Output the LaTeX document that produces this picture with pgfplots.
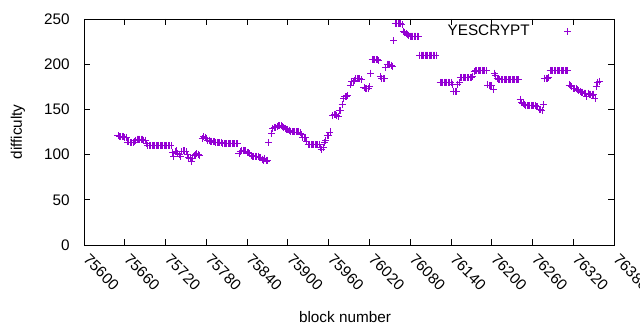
\documentclass[border=0pt]{standalone}
\usepackage{pgfplots}
\pgfplotsset{compat=1.18}
\usepackage{pgfplotstable}
\usepackage{fontspec}
\setmainfont{Liberation Sans}
\definecolor{gpviolet}{RGB}{148,0,211}
\newcommand{\gpfont}{\fontsize{15.3bp}{18bp}\selectfont}
\pgfplotstableread[row sep=\\]{
b v\\
75650 121\\ 75652 120\\ 75654 120\\ 75656 120\\ 75658 120\\ 75660 119\\ 75662 119\\
75664 114\\ 75666 114\\ 75668 113\\ 75670 113\\ 75672 113\\ 75674 114\\
75676 116\\ 75678 117\\ 75680 117\\ 75682 117\\ 75684 117\\ 75686 117\\ 75688 116\\ 75690 116\\
75692 112\\ 75694 110\\ 75696 110\\ 75698 110\\ 75700 110\\ 75702 110\\ 75704 110\\ 75706 110\\ 75708 110\\
75710 110\\ 75712 110\\ 75714 110\\ 75716 110\\ 75718 110\\ 75720 110\\ 75722 110\\ 75724 110\\ 75726 110\\ 75728 110\\
75730 102\\ 75732 98\\ 75734 103\\ 75736 104\\ 75738 101\\ 75740 100\\ 75742 98\\ 75744 103\\ 75746 104\\ 75748 104\\
75750 103\\ 75752 100\\ 75754 97\\ 75756 96\\ 75758 92\\ 75760 96\\ 75762 99\\ 75764 100\\ 75766 101\\ 75768 100\\ 75770 99\\
75774 118\\ 75776 120\\ 75778 119\\ 75780 118\\ 75782 116\\ 75784 116\\ 75786 115\\ 75788 115\\ 75790 114\\ 75792 114\\
75794 113\\ 75796 113\\ 75798 113\\ 75800 113\\ 75802 113\\ 75804 112\\ 75806 112\\ 75808 112\\ 75810 112\\ 75812 112\\
75814 112\\ 75816 112\\ 75818 112\\ 75820 112\\ 75822 112\\ 75824 112\\ 75826 112\\
75828 101\\ 75830 103\\ 75832 104\\ 75834 105\\ 75836 104\\ 75838 104\\ 75840 102\\ 75842 102\\ 75844 101\\ 75846 99\\
75848 98\\ 75850 98\\ 75852 98\\ 75854 98\\ 75856 98\\ 75858 97\\ 75860 97\\ 75862 95\\ 75864 94\\ 75866 96\\ 75868 93\\ 75870 94\\
75872 113\\ 75876 123\\ 75878 129\\ 75880 130\\ 75882 130\\ 75884 131\\ 75886 132\\ 75888 132\\ 75890 132\\ 75892 131\\
75894 130\\ 75896 129\\ 75898 128\\ 75900 128\\ 75902 127\\ 75904 126\\ 75906 125\\ 75908 125\\ 75910 125\\ 75912 125\\
75914 125\\ 75916 125\\ 75918 124\\ 75920 122\\ 75922 119\\ 75924 119\\ 75926 119\\ 75928 115\\
75930 111\\ 75932 111\\ 75934 111\\ 75936 111\\ 75938 111\\ 75940 111\\ 75942 111\\ 75944 111\\ 75946 111\\
75948 108\\ 75950 106\\ 75952 108\\ 75954 113\\ 75956 116\\ 75958 121\\ 75960 121\\ 75962 125\\
75966 143\\ 75968 144\\ 75970 144\\ 75972 143\\ 75974 142\\ 75976 149\\ 75978 149\\ 75980 155\\ 75982 162\\ 75984 164\\
75986 164\\ 75988 165\\ 75992 177\\ 75994 181\\ 75996 181\\ 75998 182\\ 76000 184\\ 76002 184\\ 76004 184\\ 76006 184\\
76008 183\\ 76012 174\\ 76014 173\\ 76016 173\\ 76018 173\\ 76020 175\\ 76022 190\\
76024 205\\ 76026 205\\ 76028 205\\ 76030 205\\ 76032 205\\ 76034 204\\ 76036 186\\ 76038 184\\ 76040 184\\ 76042 184\\
76044 196\\ 76046 200\\ 76048 200\\ 76050 200\\ 76052 199\\ 76054 198\\ 76056 226\\
76058 245\\ 76060 245\\ 76062 245\\ 76064 245\\ 76066 245\\ 76068 244\\ 76070 236\\ 76072 235\\ 76074 234\\ 76076 233\\
76078 232\\ 76080 231\\ 76082 231\\ 76084 231\\ 76086 231\\ 76088 231\\ 76090 231\\ 76092 231\\
76094 210\\ 76096 210\\ 76098 210\\ 76100 210\\ 76102 210\\ 76104 210\\ 76106 210\\ 76108 210\\ 76110 210\\ 76112 210\\
76114 210\\ 76116 210\\ 76118 210\\
76124 180\\ 76126 180\\ 76128 180\\ 76130 180\\ 76132 180\\ 76134 180\\ 76136 180\\ 76138 180\\ 76140 180\\
76142 178\\ 76144 170\\ 76146 170\\ 76148 170\\ 76150 178\\ 76152 180\\
76154 185\\ 76156 185\\ 76158 185\\ 76160 185\\ 76162 185\\ 76164 185\\ 76166 185\\ 76168 185\\ 76170 185\\ 76172 186\\
76174 192\\ 76176 193\\ 76178 193\\ 76180 193\\ 76182 193\\ 76184 193\\ 76186 193\\ 76188 193\\ 76190 193\\ 76192 193\\
76194 177\\ 76196 176\\ 76198 176\\ 76200 176\\ 76202 172\\ 76204 190\\ 76206 188\\
76208 184\\ 76210 183\\ 76212 183\\ 76214 183\\ 76216 183\\ 76218 183\\ 76220 183\\ 76222 183\\ 76224 183\\ 76226 183\\
76228 183\\ 76230 183\\ 76232 183\\ 76234 183\\ 76236 183\\ 76238 183\\ 76240 183\\
76242 161\\ 76244 158\\ 76246 157\\ 76248 155\\ 76250 154\\ 76252 154\\ 76254 154\\ 76256 154\\ 76258 154\\ 76260 154\\
76262 154\\ 76264 154\\ 76266 153\\ 76268 153\\ 76270 150\\ 76272 150\\ 76274 149\\ 76276 155\\
76278 184\\ 76280 184\\ 76282 184\\ 76284 185\\ 76286 193\\ 76288 193\\ 76290 193\\ 76292 193\\ 76294 193\\ 76296 193\\
76298 193\\ 76300 193\\ 76302 193\\ 76304 193\\ 76306 193\\ 76308 193\\ 76310 193\\ 76312 193\\
76314 177\\ 76316 176\\ 76318 175\\ 76320 173\\ 76322 173\\ 76324 173\\ 76326 172\\ 76328 171\\ 76330 170\\ 76332 169\\
76334 169\\ 76336 168\\ 76338 168\\ 76340 164\\ 76342 168\\ 76344 167\\ 76346 167\\ 76348 166\\ 76350 167\\ 76352 162\\
76354 175\\ 76356 180\\ 76358 181\\
}\yesdata
\begin{document}
\gpfont
\begin{tikzpicture}
\path[use as bounding box] (0bp,0bp) rectangle (640bp,330bp);
\begin{axis}[
  at={(84bp,85bp)}, anchor=south west,
  scale only axis, width=530bp, height=226bp,
  xmin=75600, xmax=76380, ymin=0, ymax=250,
  xtick={75600,75660,...,76380},
  ytick={0,50,...,250},
  scaled x ticks=false,
  tick align=inside,
  major tick length=6bp,
  axis line style={line width=0.8bp},
  every tick/.style={black, line width=0.8bp},
  /pgf/number format/assume math mode=true,
  /pgf/number format/1000 sep={},
  tick label style={font=\gpfont},
  xticklabel style={rotate=-45, anchor=west, xshift=5bp, yshift=-7bp},
  yticklabel style={anchor=east, xshift=-9bp},
  xlabel={block number},
  ylabel={difficulty},
  xlabel style={at={(axis description cs:0.5,0)}, anchor=base, yshift=-77bp, xshift=-4bp, font=\gpfont},
  ylabel style={at={(axis description cs:0,0.5)}, anchor=center, rotate=0, yshift=66bp, font=\gpfont},
  legend style={at={(axis description cs:1,1)}, anchor=north east, draw=none, fill=none,
    xshift=-10bp, yshift=-4bp, font=\gpfont, legend cell align=right, inner sep=0pt},
  legend plot pos=right,
  legend image code/.code={\path[draw=none, fill=none] (0bp,-3bp) rectangle (72bp,3bp);
    \draw[mark repeat=2,mark phase=2,#1] plot coordinates {(0bp,0bp) (36bp,0bp) (72bp,0bp)};},
]
\addplot[only marks, mark=+, mark size=3.5bp, gpviolet, line width=0.8bp] table[x=b, y=v] {\yesdata};
\addlegendentry{YESCRYPT}
\end{axis}
\end{tikzpicture}
\end{document}
